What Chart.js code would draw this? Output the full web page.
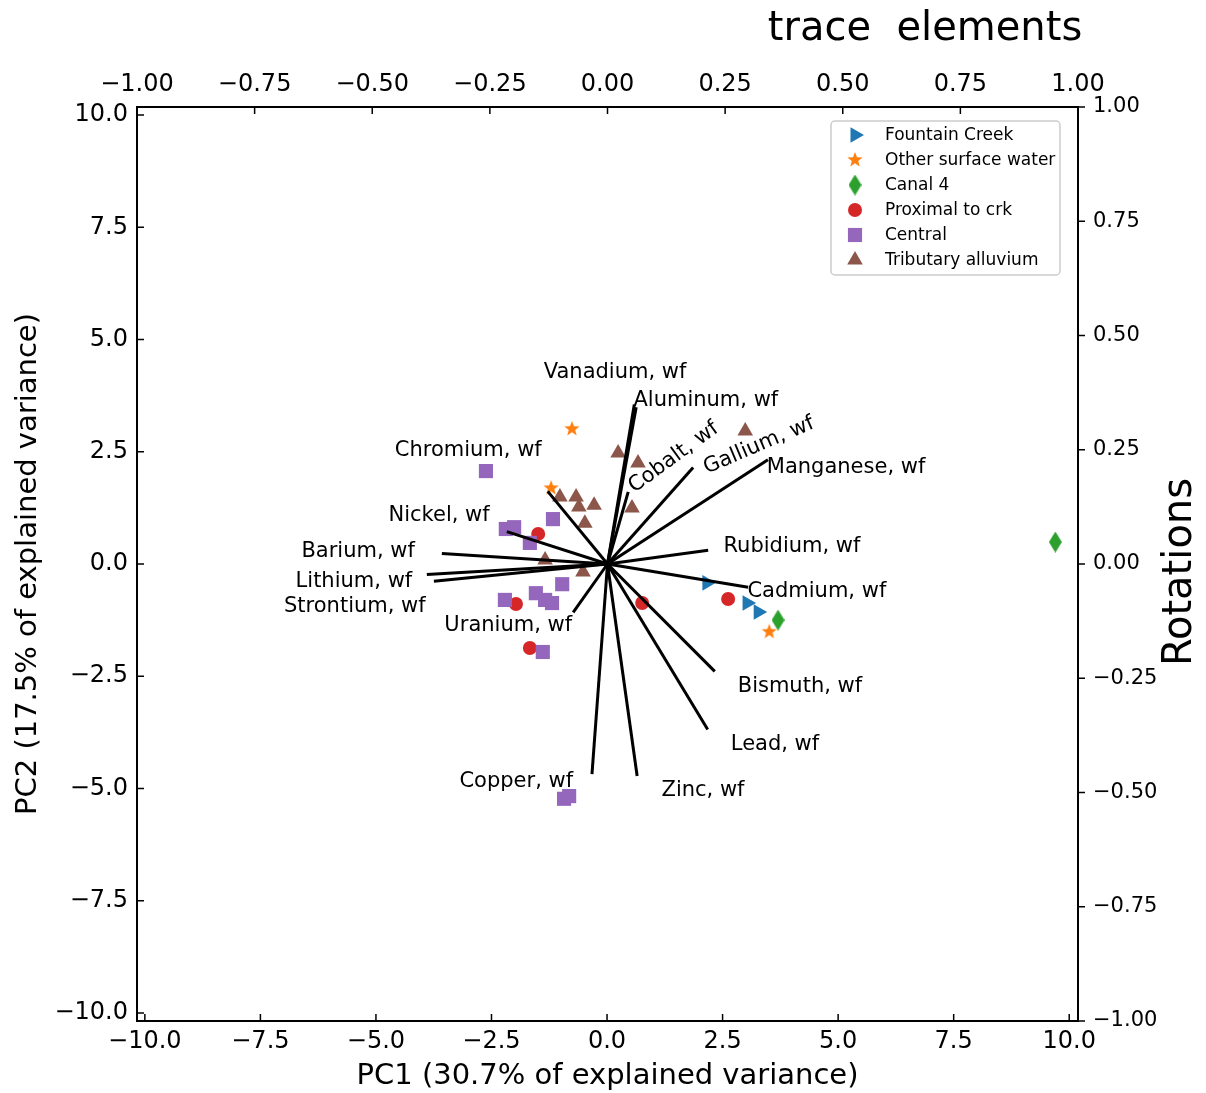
<!DOCTYPE html>
<html>
<head>
<meta charset="utf-8">
<script src="https://cdn.jsdelivr.net/npm/chart.js@4.4.0/dist/chart.umd.min.js"></script>
<style>
  body { margin: 0; background: #fff; }
  #wrap { width: 1206px; height: 1093px; }
</style>
</head>
<body>
<div id="wrap"><canvas id="biplot" width="1206" height="1093"></canvas></div>
<script>
// PC scores of the samples, one pair of arrays per group
var fountainX = [2.16, 3.03, 3.27];
var fountainY = [-0.42, -0.87, -1.07];
var otherX = [-0.76, -1.21, 3.51];
var otherY = [3.01, 1.69, -1.51];
var canalX = [9.70, 3.70];
var canalY = [0.49, -1.25];
var proximalX = [-1.49, -1.97, 0.76, 2.62, -1.67];
var proximalY = [0.67, -0.89, -0.87, -0.78, -1.87];
var centralX = [-2.62, -1.17, -2.19, -2.01, -1.67, -0.97, -1.54, -1.34, -1.19, -2.21, -1.39, -0.93, -0.82];
var centralY = [2.07, 1.00, 0.78, 0.82, 0.47, -0.45, -0.65, -0.80, -0.87, -0.80, -1.96, -5.23, -5.17];
var tribX = [2.99, 0.24, 0.67, -1.02, -0.67, -0.61, -0.28, -0.48, 0.54, -1.34, -0.52];
var tribY = [2.96, 2.47, 2.25, 1.49, 1.49, 1.27, 1.31, 0.91, 1.25, 0.09, -0.18];

// loadings (rotations) of the elements
var elements = ["Vanadium, wf", "Aluminum, wf", "Cobalt, wf", "Gallium, wf", "Manganese, wf",
  "Rubidium, wf", "Cadmium, wf", "Bismuth, wf", "Lead, wf", "Zinc, wf", "Copper, wf",
  "Uranium, wf", "Strontium, wf", "Lithium, wf", "Barium, wf", "Nickel, wf", "Chromium, wf"];
var loadX = [0.057, 0.061, 0.044, 0.182, 0.341, 0.214, 0.299, 0.228, 0.213, 0.063, -0.033,
  -0.073, -0.369, -0.384, -0.352, -0.214, -0.127];
var loadY = [0.349, 0.343, 0.158, 0.211, 0.228, 0.030, -0.051, -0.235, -0.362, -0.464, -0.460,
  -0.106, -0.038, -0.023, 0.023, 0.071, 0.159];

// where each element name sits (rotation units) and its tilt
var labelX = [0.016, 0.209, 0.141, 0.322, 0.507, 0.392, 0.445, 0.409, 0.356, 0.203, -0.194,
  -0.211, -0.537, -0.539, -0.530, -0.358, -0.296];
var labelY = [0.419, 0.357, 0.233, 0.259, 0.211, 0.038, -0.060, -0.268, -0.394, -0.495, -0.477,
  -0.134, -0.093, -0.038, 0.027, 0.106, 0.248];
var labelAngle = [0, 0, -36, -23, 0, 0, 0, 0, 0, 0, 0, 0, 0, 0, 0, 0, 0];

var pcTicks = [-10, -7.5, -5, -2.5, 0, 2.5, 5, 7.5, 10];
var rotTicks = [-1, -0.75, -0.5, -0.25, 0, 0.25, 0.5, 0.75, 1];

function pts(xs, ys) {
  return xs.map(function (x, i) { return { x: x, y: ys[i] }; });
}

function fmt(v, d) {
  return v.toFixed(d).replace("-", "\u2212");
}

function makeStar(color, r) {
  var c = document.createElement("canvas");
  c.width = c.height = 2 * r + 2;
  var g = c.getContext("2d");
  g.fillStyle = color;
  g.beginPath();
  for (var k = 0; k < 10; k++) {
    var rr = k % 2 === 0 ? r : r * 0.42;
    var a = -Math.PI / 2 + k * Math.PI / 5;
    var px = r + 1 + rr * Math.cos(a), py = r + 1 + rr * Math.sin(a);
    if (k === 0) g.moveTo(px, py); else g.lineTo(px, py);
  }
  g.closePath();
  g.fill();
  return c;
}

function makeThinDiamond(color, w, h) {
  var c = document.createElement("canvas");
  c.width = w; c.height = h;
  var g = c.getContext("2d");
  g.fillStyle = color;
  g.beginPath();
  g.moveTo(w / 2, 0); g.lineTo(w, h / 2); g.lineTo(w / 2, h); g.lineTo(0, h / 2);
  g.closePath();
  g.fill();
  return c;
}

var starImg = makeStar("#ff7f0e", 8);
var diamondImg = makeThinDiamond("#2ca02c", 13, 21);

var groups = [
  { label: "Fountain Creek", data: pts(fountainX, fountainY), pointStyle: "triangle", rotation: 90, pointRadius: 9, backgroundColor: "#1f77b4", order: 7 },
  { label: "Other surface water", data: pts(otherX, otherY), pointStyle: starImg, pointRadius: 8, backgroundColor: "#ff7f0e", order: 6 },
  { label: "Canal 4", data: pts(canalX, canalY), pointStyle: diamondImg, pointRadius: 10, backgroundColor: "#2ca02c", order: 5 },
  { label: "Proximal to crk", data: pts(proximalX, proximalY), pointStyle: "circle", pointRadius: 7, backgroundColor: "#d62728", order: 4 },
  { label: "Central", data: pts(centralX, centralY), pointStyle: "rect", pointRadius: 10, backgroundColor: "#9467bd", order: 3 },
  { label: "Tributary alluvium", data: pts(tribX, tribY), pointStyle: "triangle", pointRadius: 9, backgroundColor: "#8c564b", order: 2 }
];
groups.forEach(function (g) {
  g.borderWidth = 0;
  g.pointHoverRadius = g.pointRadius;
  g.xAxisID = "x";
  g.yAxisID = "y";
});

var arrows = elements.map(function (name, i) {
  return {
    label: name,
    data: [{ x: 0, y: 0 }, { x: loadX[i], y: loadY[i] }],
    showLine: true,
    borderColor: "#000",
    borderWidth: 3,
    pointRadius: 0,
    xAxisID: "x2",
    yAxisID: "y2",
    order: 1
  };
});

var decor = {
  id: "decor",
  afterDraw: function (chart) {
    var ctx = chart.ctx, a = chart.chartArea;
    var sx = chart.scales.x, sy = chart.scales.y, sx2 = chart.scales.x2, sy2 = chart.scales.y2;
    ctx.save();

    // tick marks: inward on left/bottom/top, outward on the right
    ctx.strokeStyle = "#000";
    ctx.lineWidth = 1.5;
    ctx.beginPath();
    pcTicks.forEach(function (v) {
      var px = sx.getPixelForValue(v);
      ctx.moveTo(px, a.bottom); ctx.lineTo(px, a.bottom - 7);
      var py = sy.getPixelForValue(v);
      ctx.moveTo(a.left, py); ctx.lineTo(a.left + 7, py);
    });
    rotTicks.forEach(function (v) {
      var px = sx2.getPixelForValue(v);
      ctx.moveTo(px, a.top); ctx.lineTo(px, a.top + 7);
      var py = sy2.getPixelForValue(v);
      ctx.moveTo(a.right, py); ctx.lineTo(a.right + 7, py);
    });
    ctx.stroke();

    // element names
    ctx.fillStyle = "#000";
    ctx.font = '21px "DejaVu Sans"';
    ctx.textAlign = "center";
    ctx.textBaseline = "middle";
    elements.forEach(function (name, i) {
      ctx.save();
      ctx.translate(sx2.getPixelForValue(labelX[i]), sy2.getPixelForValue(labelY[i]));
      ctx.rotate(labelAngle[i] * Math.PI / 180);
      ctx.fillText(name, 0, 0);
      ctx.restore();
    });

    // figure title and right-hand axis title
    ctx.font = '40px "DejaVu Sans"';
    ctx.fillText("trace  elements", 925, 30);
    ctx.save();
    ctx.translate(1181, 572);
    ctx.rotate(-Math.PI / 2);
    ctx.fillText("Rotations", 0, 0);
    ctx.restore();

    // legend
    var bx = a.right - 247, by = a.top + 14, bw = 229, bh = 154;
    ctx.fillStyle = "rgba(255,255,255,0.8)";
    ctx.strokeStyle = "#cccccc";
    ctx.lineWidth = 1.5;
    ctx.beginPath();
    ctx.roundRect(bx, by, bw, bh, 4);
    ctx.fill();
    ctx.stroke();
    ctx.font = '17px "DejaVu Sans"';
    ctx.textAlign = "left";
    groups.forEach(function (g, i) {
      var y = by + 14 + i * 25;
      ctx.fillStyle = g.backgroundColor;
      Chart.helpers.drawPoint(ctx, {
        pointStyle: g.pointStyle, rotation: g.rotation || 0,
        radius: g.pointRadius, borderWidth: 0
      }, bx + 24, y);
      ctx.fillStyle = "#000";
      ctx.fillText(g.label, bx + 54, y + 1);
    });

    ctx.restore();
  }
};

Chart.defaults.font.family = '"DejaVu Sans", sans-serif';
Chart.defaults.color = "#000";

function tickSet(list) {
  return function (s) { s.ticks = list.map(function (v) { return { value: v }; }); };
}

new Chart(document.getElementById("biplot"), {
  type: "scatter",
  data: { datasets: arrows.concat(groups) },
  options: {
    responsive: false,
    animation: false,
    layout: { padding: 0 },
    plugins: { legend: { display: false }, tooltip: { enabled: false } },
    scales: {
      x: {
        type: "linear", axis: "x", position: "bottom", min: -10.17, max: 10.19,
        afterBuildTicks: tickSet(pcTicks),
        afterFit: function (s) { s.height = 72; },
        grid: { display: false, drawTicks: false },
        border: { display: true, color: "#000", width: 2 },
        ticks: { autoSkip: false, maxRotation: 0, padding: 6, font: { size: 24 },
          callback: function (v) { return fmt(v, 1); } },
        title: { display: true, text: "PC1 (30.7% of explained variance)", font: { size: 29 },
          padding: { top: 0, bottom: -1 } }
      },
      y: {
        type: "linear", axis: "y", position: "left", min: -10.18, max: 10.18,
        afterBuildTicks: tickSet(pcTicks),
        afterFit: function (s) { s.width = 137; },
        grid: { display: false, drawTicks: false },
        border: { display: true, color: "#000", width: 2 },
        ticks: { autoSkip: false, padding: 9, font: { size: 24 },
          callback: function (v) { return fmt(v, 1); } },
        title: { display: true, text: "PC2 (17.5% of explained variance)", font: { size: 29 },
          padding: { top: 11, bottom: 0 } }
      },
      x2: {
        type: "linear", axis: "x", position: "top", min: -1, max: 1,
        afterBuildTicks: tickSet(rotTicks),
        afterFit: function (s) { s.height = 107; },
        grid: { display: false, drawTicks: false },
        border: { display: true, color: "#000", width: 2 },
        ticks: { autoSkip: false, maxRotation: 0, padding: 8, font: { size: 24 },
          callback: function (v) { return fmt(v, 2); } }
      },
      y2: {
        type: "linear", axis: "y", position: "right", min: -1, max: 1,
        afterBuildTicks: tickSet(rotTicks),
        afterFit: function (s) { s.width = 128; },
        grid: { display: false, drawTicks: false },
        border: { display: true, color: "#000", width: 2 },
        ticks: { autoSkip: false, padding: 15, font: { size: 21 },
          callback: function (v) { return fmt(v, 2); } }
      }
    }
  },
  plugins: [decor]
});
</script>
</body>
</html>
